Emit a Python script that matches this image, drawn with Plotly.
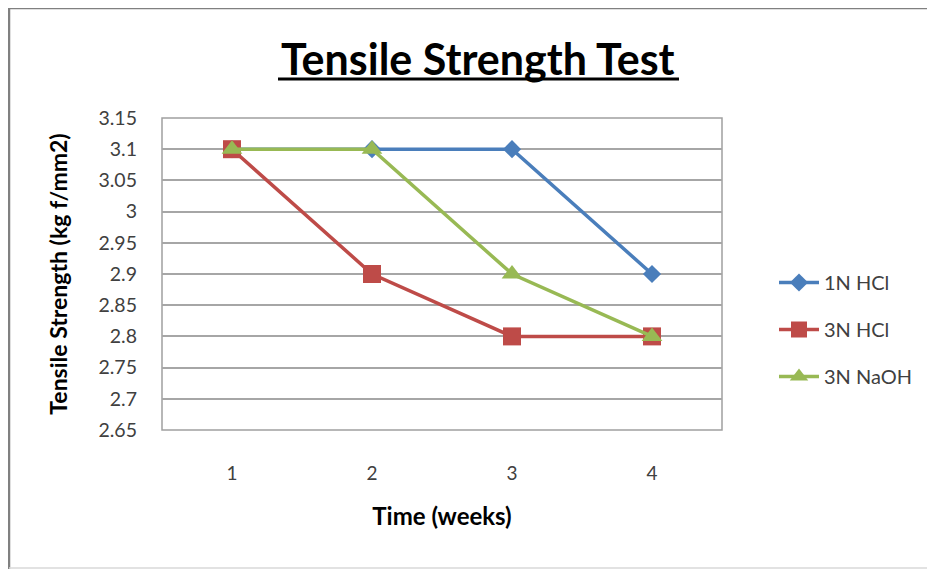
import plotly.graph_objects as go

weeks = [1, 2, 3, 4]
hcl_1n = [3.1, 3.1, 3.1, 2.9]
hcl_3n = [3.1, 2.9, 2.8, 2.8]
naoh_3n = [3.1, 3.1, 2.9, 2.8]
y_ticks = [2.65, 2.7, 2.75, 2.8, 2.85, 2.9, 2.95, 3.0, 3.05, 3.1, 3.15]
y_tick_text = ["2.65", "2.7", "2.75", "2.8", "2.85", "2.9", "2.95", "3", "3.05", "3.1", "3.15"]

FONT = "Lato, Carlito, Calibri, sans-serif"
W, H = 935, 569
OFF = 8  # page body margin
L, R, T, B = 162, 722, 118, 430

def px_x(x):
    return (x - L) / (R - L)

def px_y(y):
    return (B - y) / (B - T)

fig = go.Figure()
fig.add_trace(go.Scatter(x=weeks, y=hcl_1n, name="1N HCl", mode="lines+markers",
                         line=dict(color="#4A7EBB", width=3.5),
                         marker=dict(symbol="diamond", size=14, color="#4A7EBB"),
                         legendgroup="a"))
fig.add_trace(go.Scatter(x=weeks, y=hcl_3n, name="3N HCl", mode="lines+markers",
                         line=dict(color="#BE4B48", width=3.5),
                         marker=dict(symbol="square", size=18, color="#BE4B48"),
                         legendgroup="b"))
fig.add_trace(go.Scatter(x=weeks, y=naoh_3n, name="3N NaOH", mode="lines+markers",
                         line=dict(color="#98B954", width=3.5),
                         marker=dict(symbol="triangle-up", size=18, color="#98B954"),
                         legendgroup="c"))

fig.update_layout(
    width=W, height=H,
    margin=dict(l=L - OFF, r=W + OFF - R, t=T - OFF, b=H + OFF - B),
    paper_bgcolor="white", plot_bgcolor="white",
    font=dict(family=FONT, color="#404040", size=19),
    showlegend=True,
    legend=dict(x=px_x(774), y=px_y(263), xanchor="left", yanchor="top",
                font=dict(family=FONT, size=20, color="#404040"),
                traceorder="grouped", tracegroupgap=18,
                bgcolor="rgba(0,0,0,0)", itemwidth=40),
    xaxis=dict(range=[0.5, 4.5], tickvals=weeks, ticktext=[str(w) for w in weeks],
               showgrid=False, zeroline=False, showline=False, ticks="",
               ticklabelstandoff=30,
               tickfont=dict(size=19, color="#404040"),
               title=dict(text="<b>Time (weeks)</b>", font=dict(size=24, color="#000000"), standoff=25)),
    yaxis=dict(range=[2.65, 3.15], tickvals=y_ticks, ticktext=y_tick_text,
               showgrid=True, gridcolor="#A6A6A6", gridwidth=1.5,
               zeroline=False, showline=False, ticks="",
               ticklabelstandoff=24,
               tickfont=dict(size=19.5, color="#404040"),
               title=dict(text="<b>Tensile Strength (kg f/mm2)</b>", font=dict(size=23, color="#000000"), standoff=24)),
)

fig.add_annotation(text="<b>Tensile Strength Test</b>", xref="paper", yref="paper",
                   x=px_x(478), y=px_y(58), xanchor="center", yanchor="middle",
                   showarrow=False, font=dict(family=FONT, size=43, color="#000000"))

shapes = [
    # plot area border
    dict(type="rect", xref="paper", yref="paper", x0=0, x1=1, y0=0, y1=1,
         line=dict(color="#A0A0A0", width=1.5), layer="below"),
    # title underline
    dict(type="line", xref="paper", yref="paper", x0=px_x(278), x1=px_x(679),
         y0=px_y(79), y1=px_y(79), line=dict(color="#000000", width=3)),
    # outer frame
    dict(type="line", xref="paper", yref="paper", x0=px_x(9), x1=px_x(940),
         y0=px_y(8), y1=px_y(8), line=dict(color="#808080", width=2.5)),
    dict(type="line", xref="paper", yref="paper", x0=px_x(9), x1=px_x(9),
         y0=px_y(7), y1=px_y(575), line=dict(color="#808080", width=2.5)),
    dict(type="line", xref="paper", yref="paper", x0=px_x(9), x1=px_x(940),
         y0=px_y(568), y1=px_y(568), line=dict(color="#D8D8D8", width=1.5)),
]
fig.update_layout(shapes=shapes)

fig.write_html("out.html")
